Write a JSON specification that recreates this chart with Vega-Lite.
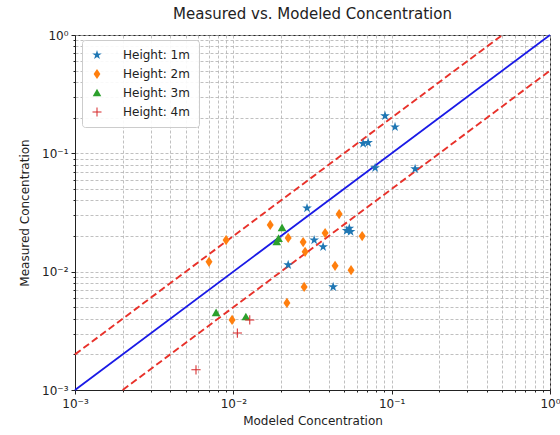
{
  "$schema": "https://vega.github.io/schema/vega-lite/v6.json",
  "width": 475,
  "height": 355,
  "autosize": {"type": "none"},
  "padding": {"left": 75, "top": 35, "right": 10, "bottom": 45},
  "background": "white",
  "config": {
    "font": "DejaVu Sans",
    "view": {"stroke": "#222", "strokeWidth": 1}
  },
  "title": {
    "text": "Measured vs. Modeled Concentration",
    "fontSize": 15,
    "fontWeight": "normal",
    "color": "#222",
    "anchor": "middle",
    "offset": 7
  },
  "datasets": {
    "pts": [
      {"model": 0.0908, "meas": 0.207, "group": "Height: 1m"},
      {"model": 0.105, "meas": 0.167, "group": "Height: 1m"},
      {"model": 0.066, "meas": 0.121, "group": "Height: 1m"},
      {"model": 0.071, "meas": 0.123, "group": "Height: 1m"},
      {"model": 0.0786, "meas": 0.0753, "group": "Height: 1m"},
      {"model": 0.1406, "meas": 0.0738, "group": "Height: 1m"},
      {"model": 0.0292, "meas": 0.0345, "group": "Height: 1m"},
      {"model": 0.0324, "meas": 0.0185, "group": "Height: 1m"},
      {"model": 0.0369, "meas": 0.0162, "group": "Height: 1m"},
      {"model": 0.052, "meas": 0.0222, "group": "Height: 1m"},
      {"model": 0.055, "meas": 0.0218, "group": "Height: 1m"},
      {"model": 0.054, "meas": 0.0232, "group": "Height: 1m"},
      {"model": 0.0427, "meas": 0.00743, "group": "Height: 1m"},
      {"model": 0.0222, "meas": 0.0114, "group": "Height: 1m"},
      {"model": 0.0171, "meas": 0.0248, "group": "Height: 2m"},
      {"model": 0.009, "meas": 0.0185, "group": "Height: 2m"},
      {"model": 0.00702, "meas": 0.0121, "group": "Height: 2m"},
      {"model": 0.0222, "meas": 0.0193, "group": "Height: 2m"},
      {"model": 0.0276, "meas": 0.0178, "group": "Height: 2m"},
      {"model": 0.0284, "meas": 0.0147, "group": "Height: 2m"},
      {"model": 0.0466, "meas": 0.0307, "group": "Height: 2m"},
      {"model": 0.038, "meas": 0.0212, "group": "Height: 2m"},
      {"model": 0.0651, "meas": 0.02, "group": "Height: 2m"},
      {"model": 0.0439, "meas": 0.0112, "group": "Height: 2m"},
      {"model": 0.0554, "meas": 0.0103, "group": "Height: 2m"},
      {"model": 0.028, "meas": 0.00743, "group": "Height: 2m"},
      {"model": 0.0218, "meas": 0.00544, "group": "Height: 2m"},
      {"model": 0.00982, "meas": 0.00391, "group": "Height: 2m"},
      {"model": 0.0203, "meas": 0.0234, "group": "Height: 3m"},
      {"model": 0.0188, "meas": 0.0178, "group": "Height: 3m"},
      {"model": 0.0193, "meas": 0.019, "group": "Height: 3m"},
      {"model": 0.00778, "meas": 0.00448, "group": "Height: 3m"},
      {"model": 0.012, "meas": 0.00414, "group": "Height: 3m"},
      {"model": 0.0127, "meas": 0.00391, "group": "Height: 4m"},
      {"model": 0.0106, "meas": 0.00303, "group": "Height: 4m"},
      {"model": 0.00581, "meas": 0.00148, "group": "Height: 4m"}
    ],
    "ident": [
      {"model": 0.001, "meas": 0.001},
      {"model": 1, "meas": 1}
    ],
    "bands": [
      {"model": 0.001, "meas": 0.002, "band": "upper"},
      {"model": 0.5, "meas": 1, "band": "upper"},
      {"model": 0.002, "meas": 0.001, "band": "lower"},
      {"model": 1, "meas": 0.5, "band": "lower"}
    ]
  },
  "encoding": {
    "x": {
      "field": "model",
      "type": "quantitative",
      "scale": {"type": "log", "domain": [0.001, 1], "nice": false},
      "axis": {
        "title": "Modeled Concentration",
        "titleFontSize": 12,
        "titleFontWeight": "normal",
        "titleColor": "#222",
        "titlePadding": 6,
        "values": [0.001, 0.002, 0.003, 0.004, 0.005, 0.006, 0.007, 0.008, 0.009, 0.01, 0.02, 0.03, 0.04, 0.05, 0.06, 0.07, 0.08, 0.09, 0.1, 0.2, 0.3, 0.4, 0.5, 0.6, 0.7, 0.8, 0.9, 1],
        "labelExpr": "datum.value == 0.001 ? '10⁻³' : datum.value == 0.01 ? '10⁻²' : datum.value == 0.1 ? '10⁻¹' : datum.value == 1 ? '10⁰' : ''",
        "labelFontSize": 12,
        "labelColor": "#222",
        "labelOverlap": false,
        "labelBound": false,
        "labelFlush": false,
        "labelPadding": 4,
        "domainColor": "#222",
        "tickColor": "#222",
        "tickSize": {"condition": {"test": "datum.value == 0.001 || datum.value == 0.01 || datum.value == 0.1 || datum.value == 1", "value": 4}, "value": 2},
        "grid": true,
        "gridColor": "#b0b0b0",
        "gridDash": [3, 2],
        "gridWidth": 0.8
      }
    },
    "y": {
      "field": "meas",
      "type": "quantitative",
      "scale": {"type": "log", "domain": [0.001, 1], "nice": false},
      "axis": {
        "title": "Measured Concentration",
        "titleFontSize": 12,
        "titleFontWeight": "normal",
        "titleColor": "#222",
        "titlePadding": 10,
        "values": [0.001, 0.002, 0.003, 0.004, 0.005, 0.006, 0.007, 0.008, 0.009, 0.01, 0.02, 0.03, 0.04, 0.05, 0.06, 0.07, 0.08, 0.09, 0.1, 0.2, 0.3, 0.4, 0.5, 0.6, 0.7, 0.8, 0.9, 1],
        "labelExpr": "datum.value == 0.001 ? '10⁻³' : datum.value == 0.01 ? '10⁻²' : datum.value == 0.1 ? '10⁻¹' : datum.value == 1 ? '10⁰' : ''",
        "labelFontSize": 12,
        "labelColor": "#222",
        "labelOverlap": false,
        "labelBound": false,
        "labelFlush": false,
        "labelPadding": 3,
        "domainColor": "#222",
        "tickColor": "#222",
        "tickSize": {"condition": {"test": "datum.value == 0.001 || datum.value == 0.01 || datum.value == 0.1 || datum.value == 1", "value": 4}, "value": 2},
        "grid": true,
        "gridColor": "#b0b0b0",
        "gridDash": [3, 2],
        "gridWidth": 0.8
      }
    }
  },
  "layer": [
    {
      "data": {"name": "ident"},
      "mark": {"type": "line", "color": "#1a1ae6", "strokeWidth": 1.8},
      "encoding": {}
    },
    {
      "data": {"name": "bands"},
      "mark": {"type": "line", "color": "#e8312a", "strokeWidth": 1.9, "strokeDash": [7, 3.5]},
      "encoding": {"detail": {"field": "band"}}
    },
    {
      "data": {"name": "pts"},
      "mark": {"type": "point", "filled": true, "opacity": 1, "size": 105},
      "encoding": {
        "color": {
          "field": "group",
          "type": "nominal",
          "scale": {
            "domain": ["Height: 1m", "Height: 2m", "Height: 3m", "Height: 4m"],
            "range": ["#1f77b4", "#ff7f0e", "#2ca02c", "#d62728"]
          },
          "legend": {
            "title": null,
            "orient": "none",
            "legendX": 7,
            "legendY": 5,
            "padding": 9,
            "rowPadding": 7,
            "symbolSize": 100,
            "symbolStrokeWidth": 0,
            "labelFontSize": 12,
            "labelColor": "#222",
            "labelOffset": 20,
            "strokeColor": "#cccccc",
            "fillColor": "rgba(255,255,255,0.9)",
            "cornerRadius": 3
          }
        },
        "shape": {
          "field": "group",
          "type": "nominal",
          "scale": {
            "domain": ["Height: 1m", "Height: 2m", "Height: 3m", "Height: 4m"],
            "range": [
              "M0,-1L0.2245,-0.309L0.9511,-0.309L0.3633,0.118L0.5878,0.809L0,0.382L-0.5878,0.809L-0.3633,0.118L-0.9511,-0.309L-0.2245,-0.309Z",
              "M0,-1L0.68,0L0,1L-0.68,0Z",
              "M0,-0.85L0.85,0.65L-0.85,0.65Z",
              "M-0.9,-0.1L0.9,-0.1L0.9,0.1L-0.9,0.1Z M-0.1,-0.9L0.1,-0.9L0.1,0.9L-0.1,0.9Z"
            ]
          }
        }
      }
    }
  ]
}
